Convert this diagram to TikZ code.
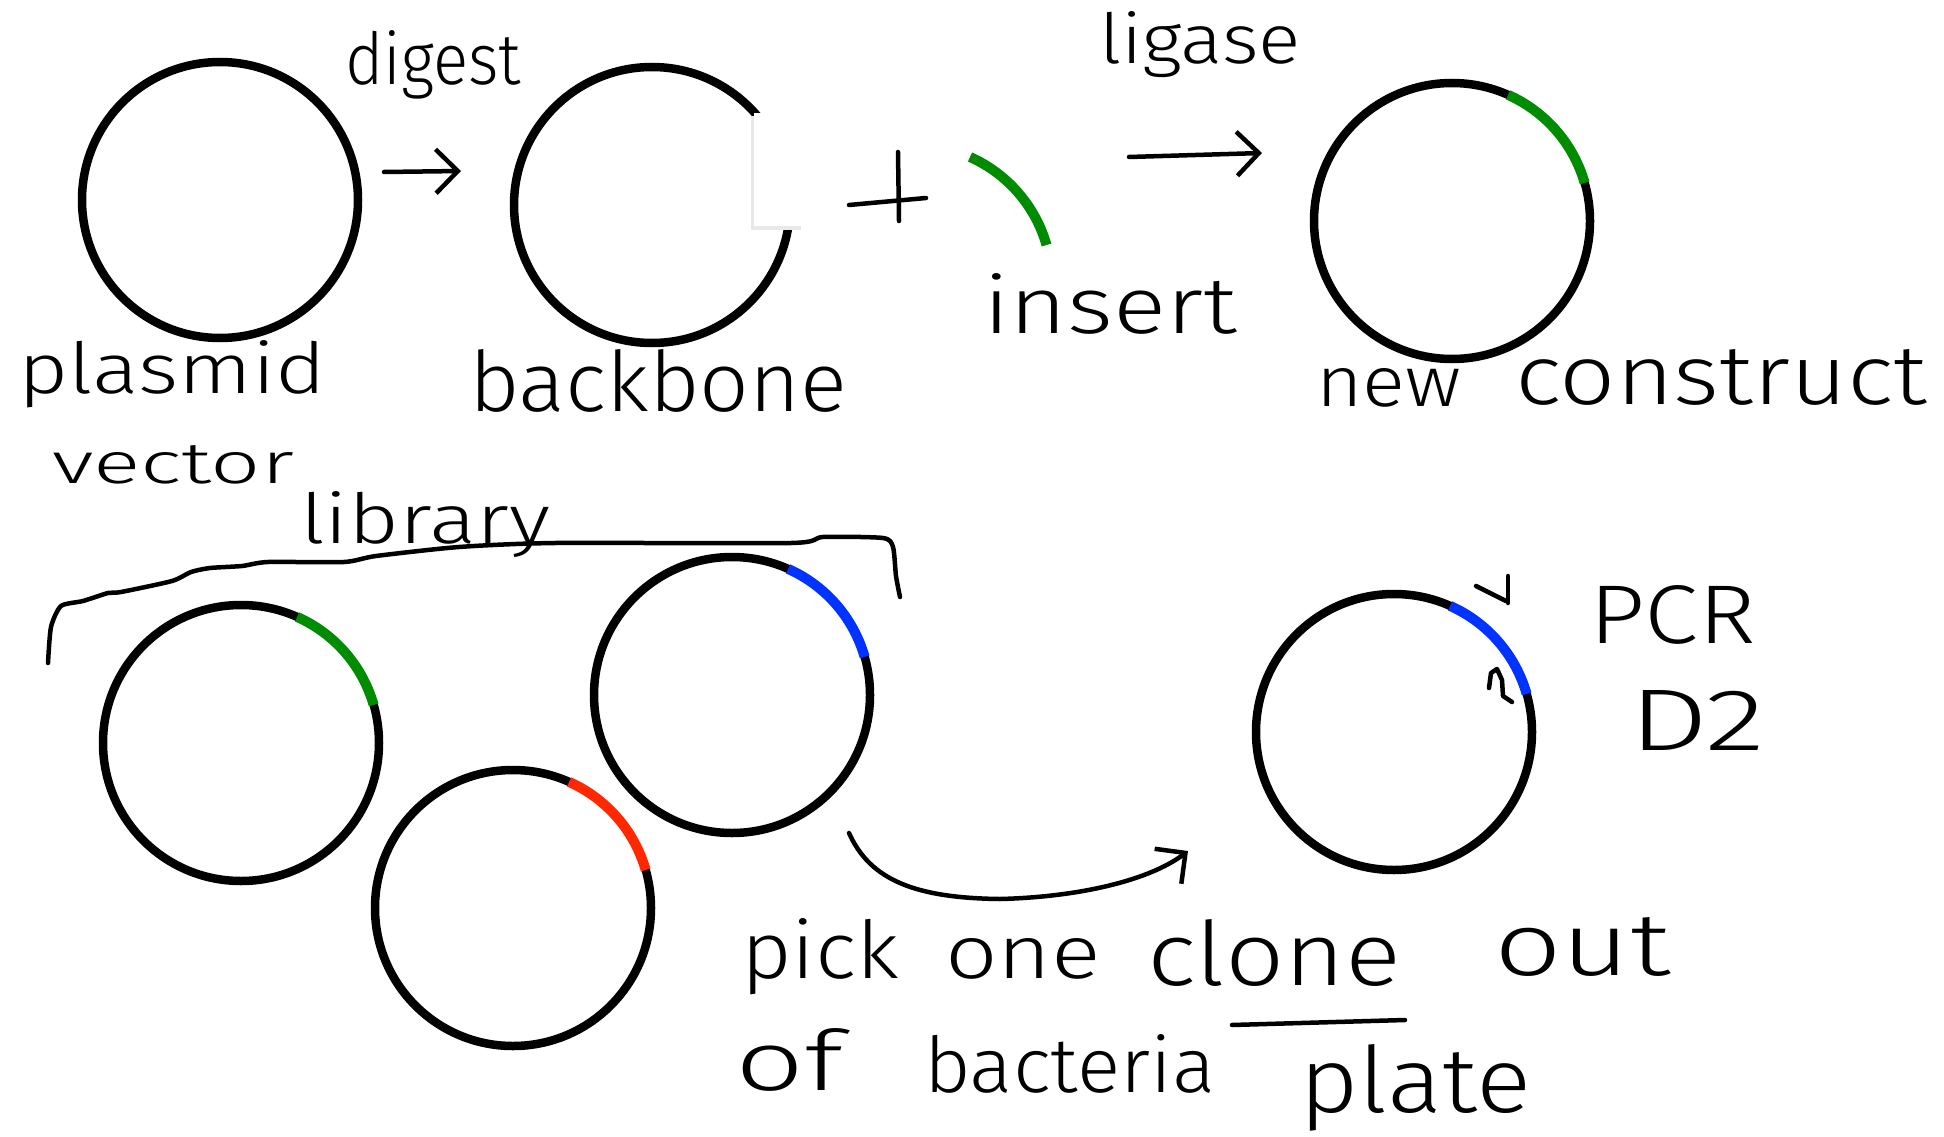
\documentclass[tikz,border=0pt]{standalone}
\usepackage{fontspec}
\usepackage{graphicx}
\IfFontExistsTF{Fira Sans Light}{\setmainfont{Fira Sans Light}}{\setmainfont{Fira Sans}}
\usetikzlibrary{arrows.meta}
\definecolor{insgreen}{RGB}{0,140,0}
\definecolor{insblue}{RGB}{0,51,255}
\definecolor{insred}{RGB}{255,40,0}
\newcommand\hw[4]{\fontsize{#1}{#1}\selectfont\resizebox{#2}{#3}{#4}}
\tikzset{
  plasmidc/.style={circle, draw=black, line width=8.5pt, minimum size=276pt, inner sep=0pt},
  seg/.style={line width=10pt, line cap=butt},
  hand/.style={line width=4.5pt, line cap=round, line join=round, black},
  lbl/.style={inner sep=0pt, outer sep=0pt, anchor=base west, text=black},
  barb/.style={-{Straight Barb[length=22pt, width=44pt, line width=4.5pt]}},
}
\begin{document}
\begin{tikzpicture}[x=1pt,y=-1pt]
\useasboundingbox[fill=white] (0,0) rectangle (1944,1137);

% circles
\node[plasmidc] (vec) at (220,200) {};
\node[plasmidc] (bb) at (652,205) {};
\node[plasmidc] (nc) at (1452,221) {};
\node[plasmidc] (lg) at (241,743) {};
\node[plasmidc] (lb) at (732,695) {};
\node[plasmidc] (lr) at (513,908) {};
\node[plasmidc] (pk) at (1394,732) {};

% cut in backbone
\fill[gray!18] (751,116) rectangle (801,230);
\fill[white] (754,113) rectangle (802,226);

% coloured inserts on circles
\draw[seg, insgreen] (nc.center) ++(-66:138) arc[start angle=-66, end angle=-16, radius=138];
\draw[seg, insgreen] (lg.center) ++(-66:138) arc[start angle=-66, end angle=-16, radius=138];
\draw[seg, insblue] (lb.center) ++(-66:138) arc[start angle=-66, end angle=-16, radius=138];
\draw[seg, insred] (lr.center) ++(-66:138) arc[start angle=-66, end angle=-16, radius=138];
\draw[seg, insblue] (pk.center) ++(-66:138) arc[start angle=-66, end angle=-16, radius=138];

% free insert
\coordinate (ins) at (970,157);
\draw[seg, insgreen] (ins) arc[start angle=-66, end angle=-16, radius=138];

% plus sign
\draw[hand] (849,205) -- (926,198);
\draw[hand] (898,152) -- (899,221);

% arrows
\coordinate (a1s) at (384,172);
\coordinate (a1e) at (461,171);
\draw[hand, barb] (a1s) -- (a1e);
\coordinate (a2s) at (1129,157);
\coordinate (a2e) at (1262,153);
\draw[hand, barb] (a2s) -- (a2e);
\coordinate (a3s) at (849,833);
\coordinate (a3m) at (1000,899);
\coordinate (a3e) at (1188,851);
\draw[hand, barb] (a3s) .. controls (870,880) and (915,898) .. (a3m) .. controls (1080,897) and (1150,880) .. (a3e);

% library brace
\draw[hand] plot[smooth, tension=0.4] coordinates {(48,663) (51,627) (61,606) (83,601) (108,593) (121,592) (172,581) (191,572) (210,568) (242,566) (268,562) (344,562) (376,556) (459,547) (555,543) (791,543) (823,537) (883,538) (893,547) (896,576) (900,597)};

% primer marks
\draw[hand] (1476,586) -- (1506,601);
\draw[hand] (1508,576) -- (1508,603);
\draw[hand] (1489,688) -- (1491,673) -- (1497,669) -- (1502,680) -- (1503,696) -- (1512,702);

% underline
\draw[hand] (1232,1025) -- (1405,1020);

% labels
\node[lbl] (tdig) at (345,85) {\hw{62pt}{176pt}{54pt}{digest}};
\node[lbl] (tpla) at (18,393) {\hw{66pt}{308pt}{53pt}{plasmid}};
\node[lbl] (tvec) at (52,483) {\hw{62pt}{242pt}{38pt}{vector}};
\node[lbl] (tbb) at (469,411) {\hw{66pt}{378pt}{62pt}{backbone}};
\node[lbl] (tins) at (983,333) {\hw{68pt}{254pt}{60pt}{insert}};
\node[lbl] (tlig) at (1099,64) {\hw{60pt}{202pt}{52pt}{ligase}};
\node[lbl] (tnew) at (1316,406) {\hw{68pt}{145pt}{38pt}{new}};
\node[lbl] (tcon) at (1515,404) {\hw{68pt}{412pt}{55pt}{construct}};
\node[lbl] (tlib) at (300,543) {\hw{62pt}{250pt}{52pt}{library}};
\node[lbl] (tpick) at (741,978) {\hw{74pt}{158pt}{60pt}{pick}};
\node[lbl] (tone) at (945,978) {\hw{74pt}{156pt}{40pt}{one}};
\node[lbl] (tclone) at (1147,985) {\hw{74pt}{254pt}{66pt}{clone}};
\node[lbl] (tout) at (1494,975) {\hw{74pt}{177pt}{58pt}{out}};
\node[lbl] (tof) at (735,1090) {\hw{74pt}{108pt}{62pt}{of}};
\node[lbl] (tbac) at (924,1092) {\hw{74pt}{291pt}{58pt}{bacteria}};
\node[lbl] (tplate) at (1299,1112) {\hw{76pt}{232pt}{68pt}{plate}};
\node[lbl] (tpcr) at (1589,643) {\hw{82pt}{167pt}{58pt}{PCR}};
\node[lbl] (td2) at (1629,750) {\hw{86pt}{136pt}{60pt}{D2}};
\end{tikzpicture}
\end{document}
